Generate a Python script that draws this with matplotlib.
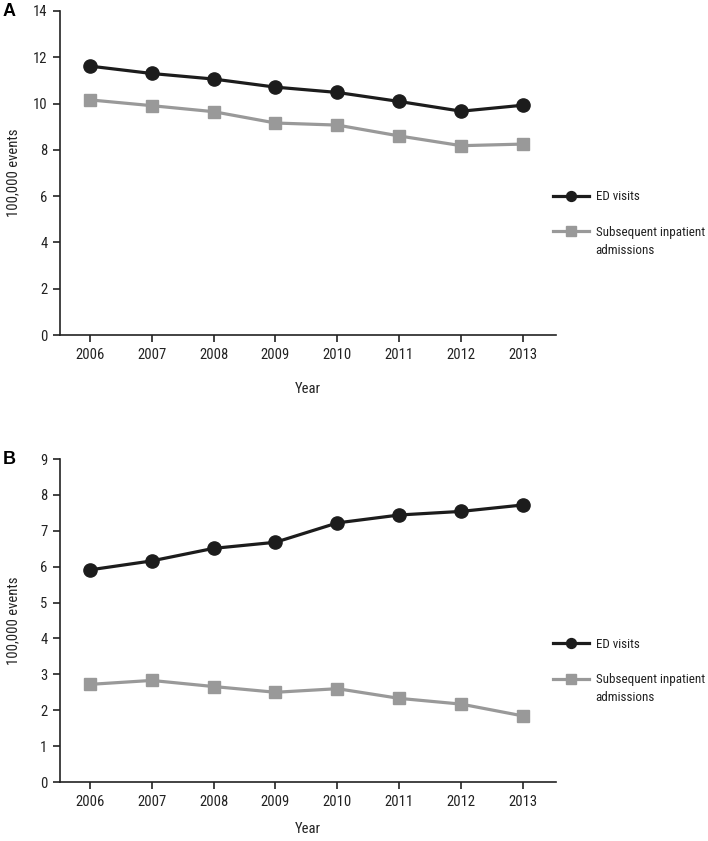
import matplotlib
matplotlib.use('Agg')
import matplotlib.pyplot as plt
from matplotlib import font_manager as fm

# pick a condensed sans if one is around, else fall back to Liberation Sans
have = {f.name for f in fm.fontManager.ttflist}
narrow = [n for n in ['Roboto Condensed', 'Liberation Sans Narrow', 'Archivo Narrow',
                      'PT Sans Narrow', 'Arial Narrow'] if n in have]
plt.rcParams['font.family'] = narrow[:1] + ['Liberation Sans', 'DejaVu Sans']

years = [2006, 2007, 2008, 2009, 2010, 2011, 2012, 2013]

# Panel A
ed_a = [11.62, 11.30, 11.06, 10.71, 10.48, 10.09, 9.67, 9.93]
inp_a = [10.16, 9.91, 9.65, 9.16, 9.07, 8.60, 8.18, 8.25]

# Panel B
ed_b = [5.91, 6.16, 6.51, 6.68, 7.22, 7.44, 7.54, 7.72]
inp_b = [2.72, 2.83, 2.66, 2.50, 2.60, 2.33, 2.17, 1.84]

W, H = 708, 841
fig = plt.figure(figsize=(W / 100, H / 100), dpi=100)
ink = '#222222'
legfs = 9.4

panels = [
    ('A', ed_a, inp_a, 14, range(0, 15, 2), 11, 335, 14.5),
    ('B', ed_b, inp_b, 9, range(0, 10), 459, 782, 9.5),
]

legends = []
for letter, ed, inp, ymax, yticks, top, bot, xpad in panels:
    ax = fig.add_axes([60 / W, 1 - bot / H, 496 / W, (bot - top) / H])
    ax.plot(years, ed, color='#1c1c1c', lw=2.3, marker='o', ms=9.5,
            label='ED visits', zorder=3)
    ax.plot(years, inp, color='#999999', lw=2.3, marker='s', ms=9,
            label='Subsequent inpatient', zorder=2)
    ax.set_xlim(2005.52, 2013.53)
    ax.set_ylim(0, ymax)
    ax.set_xticks(years)
    ax.set_yticks(list(yticks))
    for s in ['top', 'right']:
        ax.spines[s].set_visible(False)
    for s in ['left', 'bottom']:
        ax.spines[s].set_linewidth(1.2)
        ax.spines[s].set_color(ink)
    ax.tick_params(labelsize=10.5, length=5, width=1.2, colors=ink, pad=4)
    ax.set_xlabel('Year', fontsize=10.5, labelpad=xpad, color=ink)
    ax.set_ylabel('100,000 events', fontsize=10.5, color=ink)
    ax.yaxis.set_label_coords(-0.081, 0.5)
    fig.text(3 / W, 1 - top / H, letter, fontsize=13, fontweight='bold',
             va='center', ha='left', family=['Liberation Sans', 'DejaVu Sans'])

    leg_y = 1 - (top + (bot - top) * 0.545) / H
    leg = ax.legend(loc='upper left', bbox_to_anchor=(550 / W, leg_y),
                    bbox_transform=fig.transFigure, frameon=False, fontsize=legfs,
                    handlelength=2.8, handletextpad=0.5, markerscale=0.75,
                    labelspacing=1.75, borderpad=0.2, borderaxespad=0)
    for t in leg.get_texts():
        t.set_color(ink)
    legends.append(leg)

# second line of the grey series label, set under the first one
fig.canvas.draw()
for leg in legends:
    bb = leg.get_texts()[1].get_window_extent()
    fig.text(bb.x0 / W, (bb.y0 - 5) / H, 'admissions', va='top', ha='left',
             fontsize=legfs, color=ink)

plt.savefig('out.png', dpi=100)
